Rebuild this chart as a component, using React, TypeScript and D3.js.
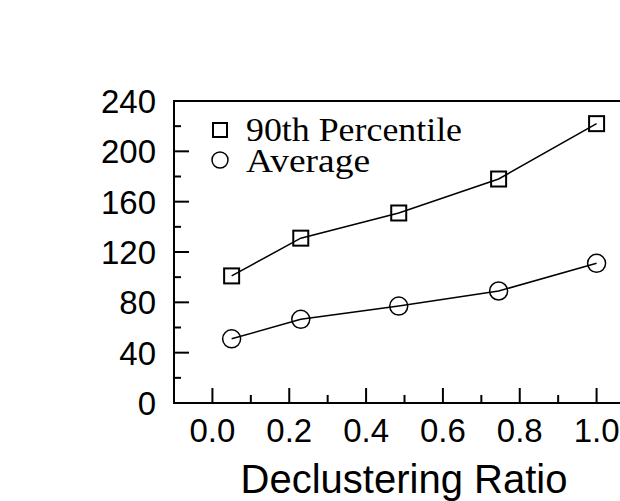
import React from "react";
import * as d3 from "d3";

const ratios = [0.05, 0.23, 0.485, 0.745, 1.0];
const p90 = [101, 131, 151, 178, 222];
const avg = [51, 66.5, 77, 89, 111];
const yMajor = [0, 40, 80, 120, 160, 200, 240];
const yMinor = [20, 60, 100, 140, 180, 220];
const xMajor = [0, 0.2, 0.4, 0.6, 0.8, 1.0];
const xMinor = [0.1, 0.3, 0.5, 0.7, 0.9];
const legendLabels = ["90th Percentile", "Average"];
const xTitle = "Declustering Ratio";

export default function App() {
  const W = 620, H = 501;
  const x = d3.scaleLinear().domain([-0.1, 1.1]).range([174, 635]);
  const y = d3.scaleLinear().domain([0, 240]).range([403, 101]);
  const line = d3.line<[number, number]>().x(d => x(d[0])).y(d => y(d[1]));
  const p90pts: [number, number][] = ratios.map((r, i) => [r, p90[i]]);
  const avgpts: [number, number][] = ratios.map((r, i) => [r, avg[i]]);
  const sans = "Arial, 'Liberation Sans', sans-serif";
  const serif = "'Times New Roman', 'Liberation Serif', serif";
  const x0 = x(-0.1), yb = y(0), yt = y(240);
  return (
    <svg width={W} height={H} style={{ position: "absolute", left: 0, top: 0, background: "#fff" }}>
      <path d={`M${x0},${yb}H${x(1.1)}V${yt}H${x0}Z`} fill="none" stroke="#000" strokeWidth={2} />
      {yMajor.map(v => (
        <g key={"ym" + v}>
          <line x1={x0} x2={x0 + 15} y1={y(v)} y2={y(v)} stroke="#000" strokeWidth={2} />
          <text x={156} y={y(v)} dy="0.36em" textAnchor="end" fontFamily={sans} fontSize={33}>{v}</text>
        </g>
      ))}
      {yMinor.map(v => (
        <line key={"yn" + v} x1={x0} x2={x0 + 7} y1={y(v)} y2={y(v)} stroke="#000" strokeWidth={2} />
      ))}
      {xMajor.map(v => (
        <g key={"xm" + v}>
          <line x1={x(v)} x2={x(v)} y1={yb} y2={yb - 15} stroke="#000" strokeWidth={2} />
          <text x={x(v)} y={442} textAnchor="middle" fontFamily={sans} fontSize={33}>{v.toFixed(1)}</text>
        </g>
      ))}
      {xMinor.map(v => (
        <line key={"xn" + v} x1={x(v)} x2={x(v)} y1={yb} y2={yb - 8} stroke="#000" strokeWidth={2} />
      ))}
      <text x={404} y={493} textAnchor="middle" fontFamily={sans} fontSize={40}>{xTitle}</text>
      <path d={line(p90pts) || ""} fill="none" stroke="#000" strokeWidth={1.5} />
      <path d={line(avgpts) || ""} fill="none" stroke="#000" strokeWidth={1.5} />
      {p90pts.map((d, i) => (
        <rect key={"s" + i} x={x(d[0]) - 7.5} y={y(d[1]) - 7.5} width={15} height={15} fill="none" stroke="#000" strokeWidth={2} />
      ))}
      {avgpts.map((d, i) => (
        <circle key={"c" + i} cx={x(d[0])} cy={y(d[1])} r={9} fill="none" stroke="#000" strokeWidth={1.5} />
      ))}
      <rect x={213} y={123} width={14} height={14} fill="none" stroke="#000" strokeWidth={2} />
      <text x={246} y={141} fontFamily={serif} fontSize={33} textLength={216} lengthAdjust="spacingAndGlyphs">{legendLabels[0]}</text>
      <circle cx={220} cy={160} r={8} fill="none" stroke="#000" strokeWidth={1.5} />
      <text x={246} y={172} fontFamily={serif} fontSize={33} textLength={124} lengthAdjust="spacingAndGlyphs">{legendLabels[1]}</text>
    </svg>
  );
}
